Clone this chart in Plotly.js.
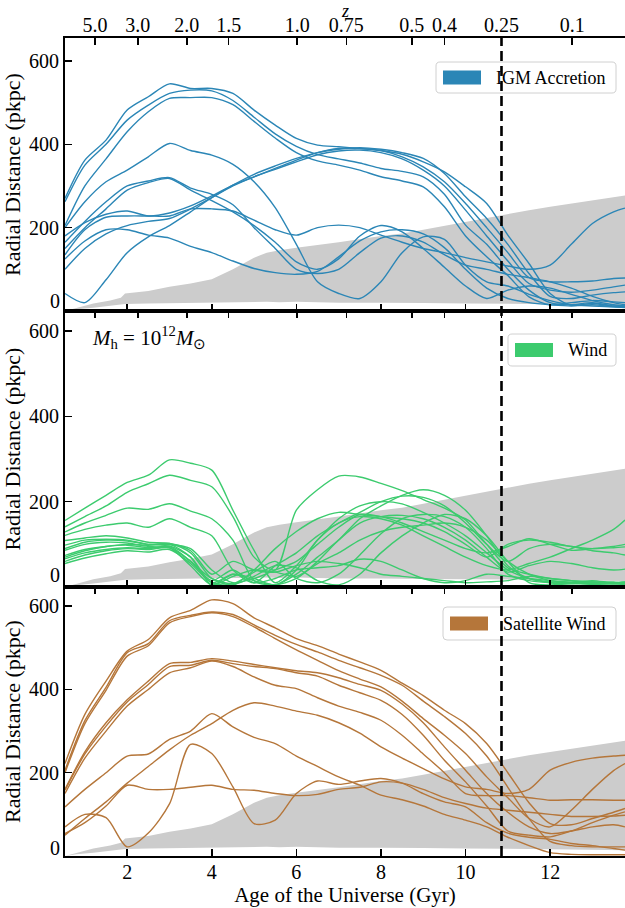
<!DOCTYPE html>
<html><head><meta charset="utf-8">
<script src="https://cdn.plot.ly/plotly-3.0.1.min.js"></script>
<style>html,body{margin:0;padding:0;background:#fff}#chart{width:625px;height:908px}</style>
</head><body><div id="chart"></div>
<script>
// ---------- data ----------
const ages = [0.53,1,1.5,2,2.5,3,3.5,4,4.5,5,5.5,6,6.5,7,7.5,8,8.5,9,9.5,10,10.5,11,11.5,12,12.5,13,13.5,13.77];

const ageTicks = [2,4,6,8,10,12];
const zLabels = ["5.0","3.0","2.0","1.5","1.0","0.75","0.5","0.4","0.25","0.1"];
const zAges   = [1.24,2.25,3.41,4.40,6.02,7.18,8.73,9.50,10.85,12.52];
const yTicks = [200,400,600];
const refAge = 10.85;

const grayAge   = [0.53,0.8,1.2,1.6,1.85,1.95,2.5,3.0,3.5,4.0,4.5,4.75,5.0,5.3,5.6,6.0,6.5,7.0,8.0,8.5,9.0,10.0,10.85,11.5,12.0,13.0,13.77];
const grayUpper = [0,8,18,25,32,42,48,58,66,76,100,114,128,140,146,152,158,165,180,186,195,214,230,242,250,265,277];
const grayLower = [0,4,8,12,15,17,18,19,20,20,21,21,22,22,21,22,21,20,20,19,19,18,18,17,16,15,14];

const igmLines = [
 [270,362,410,482,514,545,534,534,522,482,446,414,398,394,390,385,376,358,334,298,258,182,114,42,14,18,12,14],
 [262,350,400,458,494,522,530,528,505,465,425,395,375,365,355,342,335,322,280,206,160,100,50,20,15,20,12,10],
 [205,300,365,430,478,510,512,512,495,455,415,380,360,350,338,322,312,298,250,180,130,85,34,15,20,25,22,20],
 [100,150,185,205,215,222,245,272,300,322,340,358,375,384,386,380,365,338,300,242,180,120,66,50,45,50,58,62],
 [180,212,232,240,228,235,252,276,302,322,342,362,380,390,390,385,370,346,310,258,200,140,80,70,70,72,78,79],
 [42,20,75,140,178,205,238,272,302,328,348,366,380,388,392,388,380,366,330,274,222,160,90,35,30,38,44,46],
 [200,262,310,338,370,402,385,374,352,310,248,160,70,42,30,70,140,178,172,110,70,60,40,25,15,12,10,10],
 [165,215,262,300,312,320,295,280,255,200,150,100,90,100,140,175,180,165,135,110,100,88,80,70,55,35,20,15],
 [150,200,245,290,308,318,290,265,238,205,165,118,100,125,180,205,190,150,105,60,30,50,60,55,40,25,15,12],
 [135,195,225,228,228,228,245,245,240,218,195,182,200,206,200,182,165,150,140,128,118,108,100,110,160,210,238,247],
 [125,168,195,195,182,175,155,140,120,102,92,88,95,130,168,190,195,185,152,100,55,30,20,15,12,15,10,8]
];

const windLines = [
 [156,185,215,245,262,298,290,274,180,86,10,50,110,160,190,200,195,175,150,120,80,40,20,12,10,12,8,10],
 [141,165,190,222,242,262,250,235,165,70,40,180,228,260,258,243,226,205,185,157,100,45,30,20,15,12,10,12],
 [129,150,168,185,182,195,178,160,110,15,5,30,70,110,160,190,215,228,215,180,120,50,20,10,8,10,12,8],
 [121,135,145,150,140,160,140,120,40,10,50,80,120,150,175,200,213,210,190,150,100,60,90,100,95,85,80,75],
 [109,115,120,115,105,102,80,20,5,40,90,130,160,175,170,165,160,150,130,100,70,100,110,105,95,90,92,94],
 [98,110,112,110,100,100,90,40,10,20,40,60,100,140,170,165,150,130,110,90,80,95,113,100,86,90,95,100],
 [86,100,105,103,95,96,70,10,30,20,5,40,110,150,165,160,145,120,95,70,50,40,55,70,90,110,135,157],
 [74,88,95,98,92,92,50,5,25,40,35,25,55,80,110,130,140,145,150,140,110,60,30,15,10,8,10,8],
 [66,80,88,92,90,95,60,15,40,10,20,40,45,50,65,60,40,20,10,15,30,25,20,15,12,15,10,12],
 [60,75,85,90,88,92,60,20,8,35,60,20,10,30,75,125,160,170,165,140,90,30,15,10,8,12,10,8],
 [55,68,78,85,82,88,55,10,5,25,50,45,15,5,30,80,120,150,170,160,120,60,10,5,8,6,5,6],
 [70,85,95,100,98,100,70,5,30,15,5,20,60,110,150,165,168,160,140,110,70,35,50,60,55,45,40,42],
 [90,105,110,108,100,102,85,30,60,40,35,50,60,55,45,30,25,20,15,10,12,15,25,20,15,10,8,10]
];

const satLines = [
 [222,340,420,492,520,572,590,615,606,572,548,522,505,485,466,446,415,385,350,318,270,200,128,78,75,90,105,114],
 [206,325,405,488,510,565,578,586,580,555,530,508,490,470,452,434,410,372,335,294,240,165,90,35,25,22,22,22],
 [200,318,398,480,505,560,575,584,575,550,522,495,470,445,425,406,372,330,290,246,190,140,90,70,110,160,205,222],
 [160,250,320,375,420,462,465,474,468,460,452,445,440,428,412,398,365,320,262,206,150,105,70,54,60,70,75,70],
 [158,245,312,370,412,455,458,470,462,455,450,440,432,410,392,374,340,290,230,178,120,60,50,46,60,80,98,106],
 [150,235,300,360,400,440,452,468,455,430,410,402,380,360,345,326,290,245,200,150,145,145,140,134,135,135,134,134],
 [50,90,130,175,215,255,290,318,350,368,360,348,338,320,295,262,235,210,185,166,160,150,160,206,225,235,240,242],
 [118,160,200,240,245,280,300,342,310,285,270,240,215,190,170,146,135,120,100,86,70,45,25,8,4,3,3,3],
 [70,100,92,22,55,125,268,246,166,78,86,150,180,172,180,186,175,150,130,118,80,55,45,40,30,25,18,14],
 [54,80,120,170,160,160,165,170,160,158,150,145,148,160,165,178,175,160,140,126,115,110,105,100,95,95,96,98]
];

const seriesNames = ["IGM Accretion","Wind","Satellite Wind"];
const seriesColors = ["#2b86b6","#3ccb6e","#b5763a"];

// ---------- geometry (pixels) ----------
const W = 625, H = 908;
const M = {l:65, r:0, t:38, b:52};
const PW = W - M.l - M.r, PH = H - M.t - M.b;
const px2x = p => (p - M.l) / PW;
const py2y = p => (H - M.b - p) / PH;
const panels = [
  {top:38,  bottom:311, ymax:655, zeroLab:24, leg:{x0:436,x1:616,y0:62,y1:93}},
  {top:311, bottom:587, ymax:647, zeroLab:28, leg:{x0:508,x1:616,y0:334,y1:366}},
  {top:587, bottom:856, ymax:646, zeroLab:19, leg:{x0:443,x1:616,y0:607,y1:640}}
];
const allLines = [igmLines, windLines, satLines];
const FAM = "'Liberation Serif', 'Times New Roman', Times, serif";
const F = (size) => ({family: FAM, size: size, color: "#000"});

const traces = [];
const layout = {
  width: W, height: H, margin: M, showlegend: false,
  paper_bgcolor: "#fff", plot_bgcolor: "#fff",
  font: F(20), shapes: [], annotations: []
};

function roundRectPath(x0,y0,x1,y1,r){
  const X = p => px2x(p).toFixed(5), Y = p => py2y(p).toFixed(5);
  return `M${X(x0+r)},${Y(y0)} L${X(x1-r)},${Y(y0)} Q${X(x1)},${Y(y0)} ${X(x1)},${Y(y0+r)} ` +
         `L${X(x1)},${Y(y1-r)} Q${X(x1)},${Y(y1)} ${X(x1-r)},${Y(y1)} L${X(x0+r)},${Y(y1)} ` +
         `Q${X(x0)},${Y(y1)} ${X(x0)},${Y(y1-r)} L${X(x0)},${Y(y0+r)} Q${X(x0)},${Y(y0)} ${X(x0+r)},${Y(y0)} Z`;
}

panels.forEach((p, i) => {
  const n = i + 1;
  const xa = n === 1 ? "x" : "x" + n;
  const ya = n === 1 ? "y" : "y" + n;
  const za = "x" + (n + 3);
  const dom = [py2y(p.bottom), py2y(p.top)];

  traces.push({x: grayAge, y: grayLower, xaxis: xa, yaxis: ya, mode: "lines",
    line: {width: 0, color: "#cccccc"}, hoverinfo: "skip"});
  traces.push({x: grayAge, y: grayUpper, xaxis: xa, yaxis: ya, mode: "lines", fill: "tonexty",
    fillcolor: "#cccccc", line: {width: 0, color: "#cccccc"}, hoverinfo: "skip"});
  allLines[i].forEach((vals) => {
    traces.push({x: ages, y: vals, xaxis: xa, yaxis: ya, mode: "lines", name: seriesNames[i],
      line: {color: seriesColors[i], width: 1.4, shape: "spline", smoothing: 0.8}});
  });
  traces.push({x: [null], y: [null], xaxis: za, yaxis: ya, mode: "lines", hoverinfo: "skip"});

  const common = {range: [0.53, 13.77], showgrid: false, zeroline: false, showline: true,
    linecolor: "#000", linewidth: 2, ticks: "inside", ticklen: 7, tickwidth: 1.5, tickcolor: "#000",
    tickfont: F(20)};
  const xb = Object.assign({}, common, {
    anchor: ya, domain: [0, 1], tickmode: "array", tickvals: ageTicks, showticklabels: n === 3,
    ticklabelstandoff: -3});
  if (n === 3) xb.title = {text: "Age of the Universe (Gyr)", font: F(21), standoff: 3};
  layout["xaxis" + (n === 1 ? "" : n)] = xb;
  layout["xaxis" + (n + 3)] = Object.assign({}, common, {
    anchor: ya, overlaying: xa, side: "top", tickmode: "array", tickvals: zAges, ticktext: zLabels,
    showticklabels: n === 1, ticklabelstandoff: -4});
  layout["yaxis" + (n === 1 ? "" : n)] = {
    anchor: xa, domain: dom, range: [0, p.ymax], showgrid: false, zeroline: false,
    showline: true, linecolor: "#000", linewidth: 2, ticks: "inside", ticklen: 7, tickwidth: 1.5,
    tickcolor: "#000", tickmode: "array", tickvals: yTicks, tickfont: F(20),
    title: {text: "Radial Distance (pkpc)", font: F(22), standoff: 5}
  };
  layout.annotations.push({xref: "paper", yref: ya, x: 0, y: p.zeroLab, xanchor: "right",
    yanchor: "middle", xshift: -3, text: "0", showarrow: false, font: F(20)});

  const L = p.leg;
  layout.shapes.push({type: "path", xref: "paper", yref: "paper", path: roundRectPath(L.x0, L.y0, L.x1, L.y1, 4),
    line: {color: "#d0d0d0", width: 1}, fillcolor: "rgba(255,255,255,0.85)", layer: "above"});
  const pcy = (L.y0 + L.y1) / 2;
  layout.shapes.push({type: "rect", xref: "paper", yref: "paper",
    x0: px2x(L.x0 + 7), x1: px2x(L.x0 + 45), y0: py2y(pcy + 7), y1: py2y(pcy - 7),
    line: {width: 0}, fillcolor: seriesColors[i], layer: "above"});
  layout.annotations.push({xref: "paper", yref: "paper", x: px2x(L.x0 + 58), y: py2y(pcy),
    xanchor: "left", yanchor: "middle", text: seriesNames[i], showarrow: false, font: F(18)});
});

layout.shapes.push({type: "line", xref: "x", yref: "paper", x0: refAge, x1: refAge, y0: 0, y1: 1,
  line: {color: "#000", width: 2.6, dash: "10px,5px"}, layer: "above"});

// redshift axis label
layout.annotations.push({xref: "paper", yref: "paper", x: 0.5, y: py2y(11), xanchor: "center",
  yanchor: "middle", showarrow: false, font: F(18), text: "<i>z</i>"});

// halo mass label
layout.annotations.push({xref: "paper", yref: "paper", x: px2x(90), y: py2y(337), xanchor: "left",
  yanchor: "middle", showarrow: false, font: F(21),
  text: "<i>M</i><sub>h</sub> = 10<sup>12</sup><i>M</i><sub>⊙</sub>"});

Plotly.newPlot("chart", traces, layout, {staticPlot: true, displayModeBar: false});
</script>
</body></html>
